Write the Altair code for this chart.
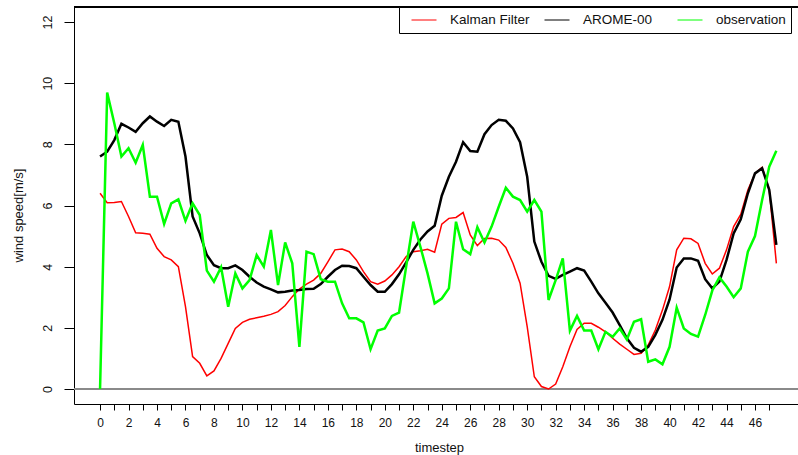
import altair as alt
import pandas as pd

series_names = ["Kalman Filter", "AROME-00", "observation"]
series_colors = ["#ff0000", "#000000", "#00ff00"]

# timestep of each sample (half-step resolution)
timestep = [i * 0.5 for i in range(96)]

kalman = [6.40, 6.09, 6.10, 6.13, 5.64, 5.11, 5.09, 5.06, 4.60, 4.33, 4.22, 4.00,
          2.69, 1.06, 0.84, 0.43, 0.59, 1.00, 1.49, 1.98, 2.18, 2.28, 2.33, 2.38,
          2.44, 2.53, 2.73, 3.02, 3.27, 3.43, 3.56, 3.78, 4.16, 4.55, 4.58, 4.49,
          4.22, 3.84, 3.51, 3.43, 3.53, 3.73, 4.00, 4.33, 4.49, 4.52, 4.57, 4.47,
          5.39, 5.58, 5.61, 5.77, 5.04, 4.69, 4.92, 4.93, 4.87, 4.63, 4.11, 3.46,
          2.04, 0.40, 0.08, 0.00, 0.16, 0.73, 1.38, 1.95, 2.15, 2.15, 2.02, 1.87,
          1.66, 1.47, 1.30, 1.13, 1.17, 1.44, 1.93, 2.58, 3.35, 4.55, 4.93, 4.91,
          4.76, 4.11, 3.76, 3.95, 4.55, 5.31, 5.71, 6.51, 7.05, 7.25, 6.51, 4.11]

arome = [7.60, 7.76, 8.14, 8.67, 8.55, 8.41, 8.69, 8.91, 8.74, 8.60, 8.80, 8.74,
         7.60, 5.64, 5.09, 4.38, 4.05, 3.95, 3.95, 4.04, 3.89, 3.67, 3.48, 3.35,
         3.26, 3.16, 3.18, 3.22, 3.24, 3.27, 3.28, 3.43, 3.67, 3.89, 4.03, 4.02,
         3.95, 3.67, 3.40, 3.18, 3.18, 3.43, 3.75, 4.14, 4.55, 4.89, 5.15, 5.34,
         6.32, 6.94, 7.43, 8.07, 7.78, 7.76, 8.33, 8.63, 8.80, 8.77, 8.52, 8.07,
         6.94, 4.82, 4.16, 3.70, 3.60, 3.73, 3.84, 3.95, 3.87, 3.51, 3.13, 2.82,
         2.50, 2.09, 1.66, 1.35, 1.22, 1.38, 1.77, 2.26, 2.93, 3.97, 4.27, 4.27,
         4.19, 3.59, 3.29, 3.51, 4.22, 5.09, 5.55, 6.40, 7.05, 7.22, 6.51, 4.71]

observation = [0.00, 9.69, 8.69, 7.60, 7.87, 7.40, 7.98, 6.29, 6.29, 5.40, 6.07, 6.20,
               5.50, 6.07, 5.69, 3.87, 3.51, 3.98, 2.69, 3.78, 3.29, 3.56, 4.38, 4.00,
               5.20, 3.40, 4.79, 4.11, 1.38, 4.49, 4.41, 3.59, 3.51, 3.51, 2.80, 2.31,
               2.31, 2.18, 1.30, 1.91, 1.98, 2.39, 2.50, 4.00, 5.47, 4.65, 3.78, 2.80,
               2.96, 3.29, 5.47, 4.57, 4.41, 5.29, 4.79, 5.31, 5.96, 6.58, 6.29, 6.18,
               5.80, 6.18, 5.80, 2.91, 3.56, 4.27, 1.91, 2.39, 1.91, 1.91, 1.30, 1.87,
               1.71, 1.98, 1.62, 2.20, 2.28, 0.89, 0.97, 0.81, 1.38, 2.66, 1.98, 1.80,
               1.71, 2.42, 3.22, 3.65, 3.35, 3.00, 3.29, 4.49, 5.00, 6.18, 7.27, 7.79]

x_ticks = list(range(48))
y_ticks = [0, 2, 4, 6, 8, 10, 12]

rows = []
for name, vals in zip(series_names, [kalman, arome, observation]):
    for t, v in zip(timestep, vals):
        rows.append({"timestep": t, "value": v, "series": name})
df = pd.DataFrame(rows)

FONT = "Liberation Sans"

x_enc = alt.X(
    "timestep:Q",
    scale=alt.Scale(domain=[-1.83, 49.02], nice=False, zero=False),
    axis=alt.Axis(
        values=x_ticks,
        labelExpr="datum.value % 2 == 0 ? datum.label : ''",
        labelOverlap=False,
        labelFlush=False,
        format="d",
        title="timestep",
        grid=False,
        tickSize=6,
        tickColor="#000000",
        domainColor="#000000",
        labelPadding=7,
        labelFontSize=12,
        labelFont=FONT,
        labelColor="#111111",
        titleFont=FONT,
        titleFontSize=13,
        titleFontWeight="normal",
        titleColor="#111111",
        titleY=43,
        titleX=365,
        titleBaseline="middle",
    ),
)

y_enc = alt.Y(
    "value:Q",
    scale=alt.Scale(domain=[-0.49, 12.49], nice=False, zero=False),
    axis=alt.Axis(
        values=y_ticks,
        title="wind speed[m/s]",
        grid=False,
        tickSize=10,
        tickColor="#000000",
        domainColor="#000000",
        labelAngle=270,
        labelAlign="center",
        labelBaseline="middle",
        labelPadding=17,
        labelFontSize=12.5,
        labelFont=FONT,
        labelColor="#111111",
        titleFont=FONT,
        titleFontSize=13,
        titleFontWeight="normal",
        titleColor="#111111",
        titleAngle=270,
        titleX=-56,
        titleY=208,
        titleAlign="center",
        titleBaseline="middle",
    ),
)

color_enc = alt.Color(
    "series:N",
    scale=alt.Scale(domain=series_names, range=series_colors),
    legend=alt.Legend(
        title=None,
        orient="none",
        legendX=325,
        legendY=0,
        direction="horizontal",
        strokeColor="#000000",
        fillColor="#ffffff",
        padding=5,
        symbolType="stroke",
        symbolSize=625,
        symbolStrokeWidth=1,
        symbolOffset=7,
        labelOffset=13,
        labelFont=FONT,
        labelFontSize=13.5,
        labelColor="#111111",
        labelLimit=200,
        columnPadding=7,
        gridAlign="all",
        clipHeight=16,
    ),
)

base = alt.Chart(df).encode(x=x_enc, y=y_enc, color=color_enc)

red = base.transform_filter(alt.datum.series == "Kalman Filter").mark_line(strokeWidth=1.5)
black = base.transform_filter(alt.datum.series == "AROME-00").mark_line(strokeWidth=2.5)
green = base.transform_filter(alt.datum.series == "observation").mark_line(strokeWidth=2.5)

zero_line = alt.Chart(df).mark_rule(color="#8a8a8a", strokeWidth=1.2).encode(y=alt.datum(0))
top_line = alt.Chart(df).mark_rule(color="#000000", strokeWidth=1).encode(y=alt.value(0))

chart = (
    alt.layer(zero_line, red, black, green, top_line)
    .properties(
        width=724,
        height=397,
        autosize=alt.AutoSizeParams(type="none"),
        padding={"left": 74, "top": 7, "right": 0, "bottom": 51},
        background="#ffffff",
    )
    .configure_view(stroke=None)
)

chart.save("out.html", embed_options={"renderer": "svg", "actions": False})
